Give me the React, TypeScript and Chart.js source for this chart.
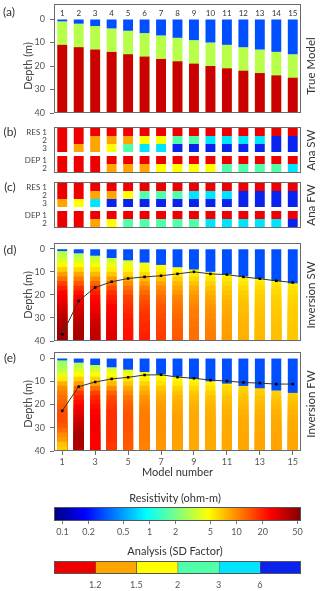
import React, { useEffect, useRef } from 'react';
import { Chart, registerables } from 'chart.js';

Chart.register(...registerables);

const _ = null;

// ---------------- data ----------------
const MODELS = ['1', '2', '3', '4', '5', '6', '7', '8', '9', '10', '11', '12', '13', '14', '15'];
const DEPTH_TICKS = [0, 10, 20, 30, 40];
const DEPTH_MAX = 40;

// true model: resistivities of 3 layers and bottoms of layers 1 and 2 (m)
const TRUE_RES = [0.3, 3, 34];
const TRUE_L1_BOTTOM = [1, 2, 3, 4, 5, 6, 7, 8, 9, 10, 11, 12, 13, 14, 15];
const TRUE_L2_BOTTOM = [11, 12, 13, 14, 15, 16, 17, 18, 19, 20, 21, 22, 23, 24, 25];

// analysis classes (0:<1.2 1:1.2-1.5 2:1.5-2 3:2-3 4:3-6 5:>6)
const ANA_ROWS = ['RES 1', '2', '3', 'DEP 1', '2'];
const ANA_SW = [
  [0, 0, 0, 0, 0, 0, 0, 0, 0, 0, 0, 0, 0, 0, 0],
  [0, 0, 1, 1, 1, 2, 2, 3, 3, 4, 4, 4, 4, 5, 5],
  [0, 1, 1, 2, 3, 4, 4, 5, 5, 5, 5, 5, 5, 5, 5],
  [0, 0, 0, 0, 0, 0, 0, 0, 0, 0, 0, 0, 0, 0, 0],
  [0, 0, 0, 1, 1, 1, 2, 2, 2, 2, 3, 3, 3, 3, 4],
];
const ANA_FW = [
  [0, 0, 0, 0, 0, 0, 0, 0, 0, 0, 0, 0, 0, 0, 0],
  [0, 0, 1, 1, 2, 3, 3, 3, 4, 4, 4, 5, 5, 5, 5],
  [1, 2, 4, 5, 5, 5, 5, 5, 5, 5, 5, 5, 5, 5, 5],
  [0, 0, 0, 0, 0, 0, 0, 0, 0, 0, 0, 0, 0, 0, 0],
  [0, 0, 1, 2, 3, 3, 3, 3, 3, 4, 4, 4, 4, 4, 5],
];

// inversion: top-layer bottom, top resistivity, 2 m layers resistivity
const INV_LAYER_TOPS = [0, 2, 4, 6, 8, 10, 12, 14, 16, 18, 20, 22, 24, 26, 28, 30, 32, 34, 36, 38];
const INV_TOP_RES = 0.3;
const INV_SW_TOP = [1, 2, 3, 4, 5, 6, 7, 8, 9, 10, 11, 12, 13, 14, 15];
const INV_FW_TOP = [1, 2, 3, 4, 5, 6, 7, 8, 9, 10, 11, 12, 13, 14, 15];
const INV_SW_RES = [
  [2.8, 3.2, 3.8, 5, 6.5, 9, 12, 16, 20, 24, 26, 28, 31, 34, 37, 40, 42, 44, 45, 46],
  [_, 3.0, 3.6, 4.8, 6.2, 8.5, 11, 14, 18, 22, 25, 27, 29, 32, 35, 38, 40, 41, 42, 43],
  [_, 3.0, 3.5, 4.5, 5.8, 7.5, 10, 13, 17, 20, 23, 25, 26, 28, 30, 32, 34, 35, 36, 37],
  [_, _, 3.4, 4.2, 5.3, 6.8, 9, 12, 15, 18, 20, 22, 24, 25, 26, 27, 28, 29, 30, 30],
  [_, _, 3.6, 4.2, 5.0, 6.2, 8, 10, 12, 14, 16, 17, 18, 19, 20, 21, 21, 22, 22, 22],
  [_, _, _, 4.3, 5.0, 6.0, 7.5, 9, 11, 12.5, 14, 15, 16, 17, 18, 18, 19, 19, 20, 20],
  [_, _, _, 4.5, 5.0, 5.8, 7, 8.5, 10, 11, 12, 13, 14, 14.5, 15, 15.5, 16, 16, 16.5, 16.5],
  [_, _, _, _, 4.8, 5.5, 6.5, 7.5, 8.5, 9.5, 10.5, 11, 11.5, 12, 12.5, 13, 13, 13.5, 13.5, 14],
  [_, _, _, _, 4.8, 5.3, 6, 7, 8, 8.8, 9.5, 10, 10.5, 11, 11, 11.5, 11.5, 12, 12, 12],
  [_, _, _, _, _, 5.0, 5.6, 6.3, 7, 7.7, 8.3, 8.8, 9.2, 9.6, 10, 10.2, 10.5, 10.7, 11, 11],
  [_, _, _, _, _, 5.0, 5.4, 6, 6.5, 7, 7.4, 7.8, 8, 8.2, 8.4, 8.6, 8.7, 8.8, 8.9, 9],
  [_, _, _, _, _, _, 5.2, 5.6, 6, 6.4, 6.7, 7, 7.2, 7.3, 7.5, 7.6, 7.7, 7.8, 7.8, 7.9],
  [_, _, _, _, _, _, 5.2, 5.6, 6, 6.3, 6.5, 6.7, 6.9, 7, 7.1, 7.2, 7.3, 7.4, 7.4, 7.5],
  [_, _, _, _, _, _, _, 5.4, 5.8, 6.1, 6.3, 6.5, 6.6, 6.7, 6.8, 6.9, 7, 7, 7.1, 7.1],
  [_, _, _, _, _, _, _, 5.4, 5.6, 5.9, 6.1, 6.3, 6.4, 6.5, 6.6, 6.6, 6.7, 6.7, 6.8, 6.8],
];
const INV_FW_RES = [
  [2.4, 2.6, 3.0, 4.0, 5.3, 8, 10, 11, 12, 13, 14, 15, 15, 15, 14, 12, 10, 9, 7, 6.5],
  [_, 3.0, 3.6, 4.8, 6.5, 9, 13, 17, 20, 23, 26, 28, 31, 34, 37, 40, 42, 43, 42, 40],
  [_, 3.0, 3.5, 4.6, 6.2, 8.5, 12, 16, 19, 21, 23, 24, 25, 26, 26, 26, 25, 25, 24, 24],
  [_, _, 3.6, 4.6, 5.8, 7.5, 10, 13, 15, 16, 17, 18, 18, 18, 18, 18, 18, 18, 17, 17],
  [_, _, 3.8, 4.5, 5.5, 6.8, 8.5, 10, 11.5, 12.5, 13.5, 14, 14.5, 14.5, 14.5, 14.5, 14, 14, 14, 13.5],
  [_, _, _, 4.5, 5.2, 6.2, 7.5, 8.5, 9.5, 10, 10.5, 11, 11, 11, 11, 11, 11, 11, 10.5, 10.5],
  [_, _, _, 4.7, 5.0, 5.7, 6.8, 7.6, 8.2, 8.6, 9, 9.2, 9.3, 9.4, 9.4, 9.4, 9.4, 9.3, 9.2, 9.2],
  [_, _, _, _, 4.9, 5.4, 6.3, 7, 7.6, 8, 8.3, 8.5, 8.6, 8.7, 8.7, 8.7, 8.7, 8.6, 8.6, 8.5],
  [_, _, _, _, 5.0, 5.3, 6, 6.7, 7.2, 7.6, 7.9, 8.1, 8.2, 8.3, 8.3, 8.3, 8.3, 8.3, 8.3, 8.2],
  [_, _, _, _, _, 5.2, 5.8, 6.4, 7, 7.4, 7.7, 7.9, 8, 8.1, 8.2, 8.2, 8.2, 8.2, 8.2, 8.2],
  [_, _, _, _, _, 5.5, 6, 6.5, 7, 7.3, 7.6, 7.8, 8, 8.1, 8.2, 8.2, 8.3, 8.3, 8.3, 8.3],
  [_, _, _, _, _, _, 6.2, 6.6, 7, 7.3, 7.6, 7.8, 8, 8.1, 8.2, 8.3, 8.3, 8.4, 8.4, 8.4],
  [_, _, _, _, _, _, 6.3, 6.6, 7, 7.3, 7.6, 7.8, 8, 8.1, 8.2, 8.3, 8.4, 8.4, 8.5, 8.5],
  [_, _, _, _, _, _, _, 6.5, 6.9, 7.2, 7.5, 7.8, 8, 8.1, 8.2, 8.3, 8.4, 8.5, 8.5, 8.6],
  [_, _, _, _, _, _, _, 6.6, 6.8, 7.1, 7.4, 7.7, 7.9, 8, 8.1, 8.2, 8.3, 8.4, 8.4, 8.5],
];
const INV_SW_DEPTH = [37.1, 22.6, 16.8, 14.3, 12.9, 12.2, 11.7, 10.9, 10.0, 10.9, 11.2, 12.2, 13.0, 13.9, 14.6];
const INV_FW_DEPTH = [22.7, 12.3, 10.3, 9.0, 8.3, 7.3, 7.2, 8.2, 8.7, 9.5, 9.9, 10.5, 10.8, 11.2, 11.2];

// colour bars
const RES_MIN = 0.08;
const RES_MAX = 55;
const RES_TICKS = [0.1, 0.2, 0.5, 1, 2, 5, 10, 20, 50];
const SD_TICKS = ['1.2', '1.5', '2', '3', '6'];
const SD_COLORS = ['#ee0000', '#ffa500', '#ffff00', '#50ffaa', '#00e5ff', '#0a22ee'];

// ---------------- styling helpers ----------------
const FONT = 'Lato, "Open Sans", "DejaVu Sans", sans-serif';
Chart.defaults.font.family = FONT;
Chart.defaults.color = '#444';

const ANA_ROW_SPANS = [[0, 1], [1, 2], [2, 3], [3.5, 4.5], [4.5, 5.5]];
const ANA_ROW_TICKS = [0.5, 1.5, 2.5, 4, 5];

const c01 = (x: number) => Math.max(0, Math.min(1, x));
function jetT(t: number) {
  const r = c01(Math.min(4 * t - 1.5, -4 * t + 4.5));
  const g = c01(Math.min(4 * t - 0.5, -4 * t + 3.5));
  const b = c01(Math.min(4 * t + 0.5, -4 * t + 2.5));
  return `rgb(${Math.round(r * 255)},${Math.round(g * 255)},${Math.round(b * 255)})`;
}
const LMIN = Math.log10(RES_MIN);
const LMAX = Math.log10(RES_MAX);
const resColor = (v: number) => jetT(c01((Math.log10(v) - LMIN) / (LMAX - LMIN)));

const fit = (w?: number, h?: number) => (scale: any) => {
  if (w !== undefined) scale.width = w;
  if (h !== undefined) scale.height = h;
  scale.paddingTop = 0;
  scale.paddingBottom = 0;
  scale.paddingLeft = 0;
  scale.paddingRight = 0;
};

const framePlugin = {
  id: 'frame',
  afterDraw(chart: any, _args: any, opts: any) {
    const { left, right, top, bottom } = chart.chartArea;
    const t = opts && opts.includeTopAxis ? chart.scales.x.top : top;
    const ctx = chart.ctx;
    ctx.save();
    ctx.strokeStyle = (opts && opts.color) || '#6a6a6a';
    ctx.lineWidth = 1;
    ctx.strokeRect(Math.round(left) + 0.5, Math.round(t) + 0.5, Math.round(right - left) - 1, Math.round(bottom - t) - 1);
    ctx.restore();
  },
};

function baseOptions(padding: any, extra: any = {}) {
  return {
    responsive: false,
    animation: false,
    devicePixelRatio: 1,
    events: [],
    layout: { padding },
    plugins: { legend: { display: false }, tooltip: { enabled: false }, title: { display: false }, frame: extra.frame || {} },
    datasets: {
      bar: { barPercentage: 0.6, categoryPercentage: 1, grouped: false, borderWidth: 0 },
    },
  };
}

function depthAxis(min: number) {
  return {
    type: 'linear',
    reverse: true,
    min,
    max: DEPTH_MAX,
    afterBuildTicks: (s: any) => {
      s.ticks = DEPTH_TICKS.map((v) => ({ value: v }));
    },
    grid: { display: true, drawOnChartArea: false, drawTicks: true, tickLength: 4, color: '#6a6a6a' },
    border: { display: false },
    ticks: { font: { size: 9 }, color: '#555', padding: 5, autoSkip: false },
    afterFit: fit(54, undefined),
  };
}

function inversionDatasets(resRows: (number | null)[][], tops: number[], depths: number[]) {
  const layers = INV_LAYER_TOPS.map((lt, li) => ({
    type: 'bar',
    data: resRows.map((row) => (row[li] == null ? null : [lt, DEPTH_MAX])),
    backgroundColor: resRows.map((row) => (row[li] == null ? 'rgba(0,0,0,0)' : resColor(row[li] as number))),
    order: 100 - li,
  }));
  return [
    {
      type: 'line',
      data: depths,
      borderColor: '#333',
      borderWidth: 1,
      pointRadius: 1.8,
      pointStyle: 'rect',
      pointBackgroundColor: '#000',
      pointBorderColor: '#000',
      pointBorderWidth: 0,
      tension: 0,
      order: 0,
    },
    { type: 'bar', data: tops.map((t) => [0, t]), backgroundColor: resColor(INV_TOP_RES), order: 1 },
    ...layers,
  ];
}

// ---------------- chart configs ----------------
function trueModelConfig() {
  return {
    type: 'bar',
    data: {
      labels: MODELS,
      datasets: [
        { data: TRUE_L1_BOTTOM.map((b) => [0, b]), backgroundColor: resColor(TRUE_RES[0]), order: 1 },
        { data: TRUE_L1_BOTTOM.map((b) => [b, DEPTH_MAX]), backgroundColor: resColor(TRUE_RES[1]), order: 3 },
        { data: TRUE_L2_BOTTOM.map((b) => [b, DEPTH_MAX]), backgroundColor: resColor(TRUE_RES[2]), order: 2 },
      ],
    },
    options: {
      ...baseOptions({ top: 4, bottom: 7, left: 0, right: 19 }, { frame: { includeTopAxis: true } }),
      scales: {
        x: {
          type: 'category',
          position: 'top',
          grid: { display: false, drawTicks: false },
          border: { display: false },
          ticks: { font: { size: 8 }, color: '#333', padding: 1, autoSkip: false, maxRotation: 0 },
          afterFit: fit(undefined, 15),
        },
        y: depthAxis(0),
      },
    },
    plugins: [framePlugin],
  };
}

function analysisConfig(rows: number[][], padTop: number, padBottom: number) {
  return {
    type: 'bar',
    data: {
      labels: MODELS,
      datasets: rows.map((row, ri) => ({
        data: row.map(() => ANA_ROW_SPANS[ri]),
        backgroundColor: row.map((c) => SD_COLORS[c]),
      })),
    },
    options: {
      ...baseOptions({ top: padTop, bottom: padBottom, left: 0, right: 19 }),
      scales: {
        x: { type: 'category', display: false },
        y: {
          type: 'linear',
          reverse: true,
          min: -0.125,
          max: 5.625,
          afterBuildTicks: (s: any) => {
            s.ticks = ANA_ROW_TICKS.map((v) => ({ value: v }));
          },
          grid: { display: false, drawTicks: false },
          border: { display: false },
          ticks: {
            font: { size: 8 },
            color: '#444',
            padding: 7,
            autoSkip: false,
            callback: (v: number) => ANA_ROWS[ANA_ROW_TICKS.indexOf(v)],
          },
          afterFit: fit(54, undefined),
        },
      },
    },
    plugins: [framePlugin],
  };
}

function inversionConfig(resRows: any, tops: number[], depths: number[], padTop: number, showX: boolean, yMin: number) {
  const x = showX
    ? {
        type: 'category',
        position: 'bottom',
        grid: {
          display: true,
          drawOnChartArea: false,
          drawTicks: true,
          tickLength: 4,
          offset: false,
          color: (c: any) => (c.index % 2 === 0 ? '#6a6a6a' : 'rgba(0,0,0,0)'),
          tickColor: (c: any) => (c.index % 2 === 0 ? '#6a6a6a' : 'rgba(0,0,0,0)'),
        },
        border: { display: false },
        ticks: {
          font: { size: 9 },
          color: '#555',
          padding: 2,
          autoSkip: false,
          maxRotation: 0,
          callback: (_v: any, i: number) => (i % 2 === 0 ? MODELS[i] : ''),
        },
        title: { display: true, text: 'Model number', font: { size: 11 }, color: '#333', padding: { top: 0, bottom: 1 } },
        afterFit: fit(undefined, 29),
      }
    : { type: 'category', display: false };
  return {
    type: 'bar',
    data: { labels: MODELS, datasets: inversionDatasets(resRows, tops, depths) },
    options: {
      ...baseOptions({ top: padTop, bottom: showX ? 0 : 5, left: 0, right: 19 }),
      scales: { x, y: depthAxis(yMin) },
    },
    plugins: [framePlugin],
  };
}

function resBarConfig() {
  return {
    type: 'bar',
    data: {
      labels: [''],
      datasets: [
        {
          data: [[RES_MIN, RES_MAX]],
          barPercentage: 1,
          categoryPercentage: 1,
          backgroundColor: (ctx: any) => {
            const chart = ctx.chart;
            const sx = chart.scales && chart.scales.x;
            const area = chart.chartArea;
            if (!sx || !area) return '#888';
            let x0 = sx.getPixelForValue(RES_MIN);
            let x1 = sx.getPixelForValue(RES_MAX);
            if (!isFinite(x0) || !isFinite(x1) || x0 === x1) {
              x0 = area.left;
              x1 = area.right;
            }
            if (!isFinite(x0) || !isFinite(x1) || x0 === x1) return '#888';
            const g = chart.ctx.createLinearGradient(x0, 0, x1, 0);
            for (let i = 0; i <= 40; i++) g.addColorStop(i / 40, jetT(i / 40));
            return g;
          },
        },
      ],
    },
    options: {
      ...baseOptions({ top: 7, bottom: 0, left: 54, right: 19 }, { frame: { color: '#555' } }),
      indexAxis: 'y',
      scales: {
        x: {
          type: 'logarithmic',
          min: RES_MIN,
          max: RES_MAX,
          afterBuildTicks: (s: any) => {
            s.ticks = RES_TICKS.map((v) => ({ value: v }));
          },
          grid: { display: true, drawOnChartArea: false, drawTicks: true, tickLength: 3, color: '#777' },
          border: { display: false },
          ticks: { font: { size: 9 }, color: '#555', padding: 3, autoSkip: false, maxRotation: 0, callback: (v: number) => String(v) },
          afterFit: fit(undefined, 19),
        },
        y: { type: 'category', display: false },
      },
    },
    plugins: [framePlugin],
  };
}

function sdBarConfig() {
  return {
    type: 'bar',
    data: {
      labels: [''],
      datasets: SD_COLORS.map((c, i) => ({
        data: [[i, i + 1]],
        backgroundColor: c,
        borderColor: '#555',
        borderWidth: i === 0 ? 0 : { left: 1, right: 0, top: 0, bottom: 0 },
        borderSkipped: false,
        barPercentage: 1,
        categoryPercentage: 1,
      })),
    },
    options: {
      ...baseOptions({ top: 9, bottom: 0, left: 54, right: 19 }, { frame: { color: '#555' } }),
      indexAxis: 'y',
      scales: {
        x: {
          type: 'linear',
          min: 0,
          max: SD_COLORS.length,
          afterBuildTicks: (s: any) => {
            s.ticks = SD_TICKS.map((_t, i) => ({ value: i + 1 }));
          },
          grid: { display: false, drawTicks: false },
          border: { display: false },
          ticks: { font: { size: 9 }, color: '#555', padding: 6, autoSkip: false, maxRotation: 0, callback: (v: number) => SD_TICKS[v - 1] },
          afterFit: fit(undefined, 17),
        },
        y: { type: 'category', display: false },
      },
    },
    plugins: [framePlugin],
  };
}

// ---------------- components ----------------
function ChartBox({ top, height, make }: { top: number; height: number; make: () => any }) {
  const ref = useRef<HTMLCanvasElement>(null);
  useEffect(() => {
    let chart: any = null;
    try {
      chart = new Chart(ref.current as HTMLCanvasElement, make());
    } catch (e) {
      console.error(e);
    }
    return () => {
      if (chart) chart.destroy();
    };
  }, []);
  return (
    <canvas
      ref={ref}
      width={320}
      height={height}
      style={{ position: 'absolute', left: 0, top, width: 320, height, display: 'block' }}
    />
  );
}

function Txt({ x, y, text, size = 11, rotate = false, color = '#333' }: any) {
  return (
    <div
      style={{
        position: 'absolute',
        left: x,
        top: y,
        transform: `translate(-50%, -50%)${rotate ? ' rotate(-90deg)' : ''}`,
        fontSize: size,
        color,
        whiteSpace: 'nowrap',
        lineHeight: 1,
        fontFamily: FONT,
      }}
    >
      {text}
    </div>
  );
}

export default function App() {
  return (
    <div style={{ position: 'absolute', left: 0, top: 0, width: 320, height: 591, background: '#fff', overflow: 'hidden' }}>
      <ChartBox top={0} height={120} make={trueModelConfig} />
      <ChartBox top={120} height={56} make={() => analysisConfig(ANA_SW, 7, 3)} />
      <ChartBox top={176} height={56} make={() => analysisConfig(ANA_FW, 6, 4)} />
      <ChartBox top={232} height={114} make={() => inversionConfig(INV_SW_RES, INV_SW_TOP, INV_SW_DEPTH, 11, false, -2.5)} />
      <ChartBox top={346} height={134} make={() => inversionConfig(INV_FW_RES, INV_FW_TOP, INV_FW_DEPTH, 6, true, -2.6)} />
      <ChartBox top={500} height={40} make={resBarConfig} />
      <ChartBox top={552} height={39} make={sdBarConfig} />

      <Txt x={9} y={12} text="(a)" size={12} />
      <Txt x={10} y={132} text="(b)" size={12} />
      <Txt x={10} y={187} text="(c)" size={12} />
      <Txt x={10} y={250} text="(d)" size={12} />
      <Txt x={10} y={358} text="(e)" size={12} />

      <Txt x={27} y={66} text="Depth (m)" size={11} rotate color="#444" />
      <Txt x={27} y={295} text="Depth (m)" size={11} rotate color="#444" />
      <Txt x={27} y={404} text="Depth (m)" size={11} rotate color="#444" />

      <Txt x={311} y={66} text="True Model" size={11.5} rotate />
      <Txt x={311} y={150} text="Ana SW" size={11.5} rotate />
      <Txt x={311} y={205} text="Ana FW" size={11.5} rotate />
      <Txt x={311} y={295} text="Inversion SW" size={11.5} rotate />
      <Txt x={311} y={404} text="Inversion FW" size={11.5} rotate />

      <Txt x={175} y={497} text="Resistivity (ohm-m)" size={11} />
      <Txt x={175} y={550} text="Analysis (SD Factor)" size={11} />
    </div>
  );
}
